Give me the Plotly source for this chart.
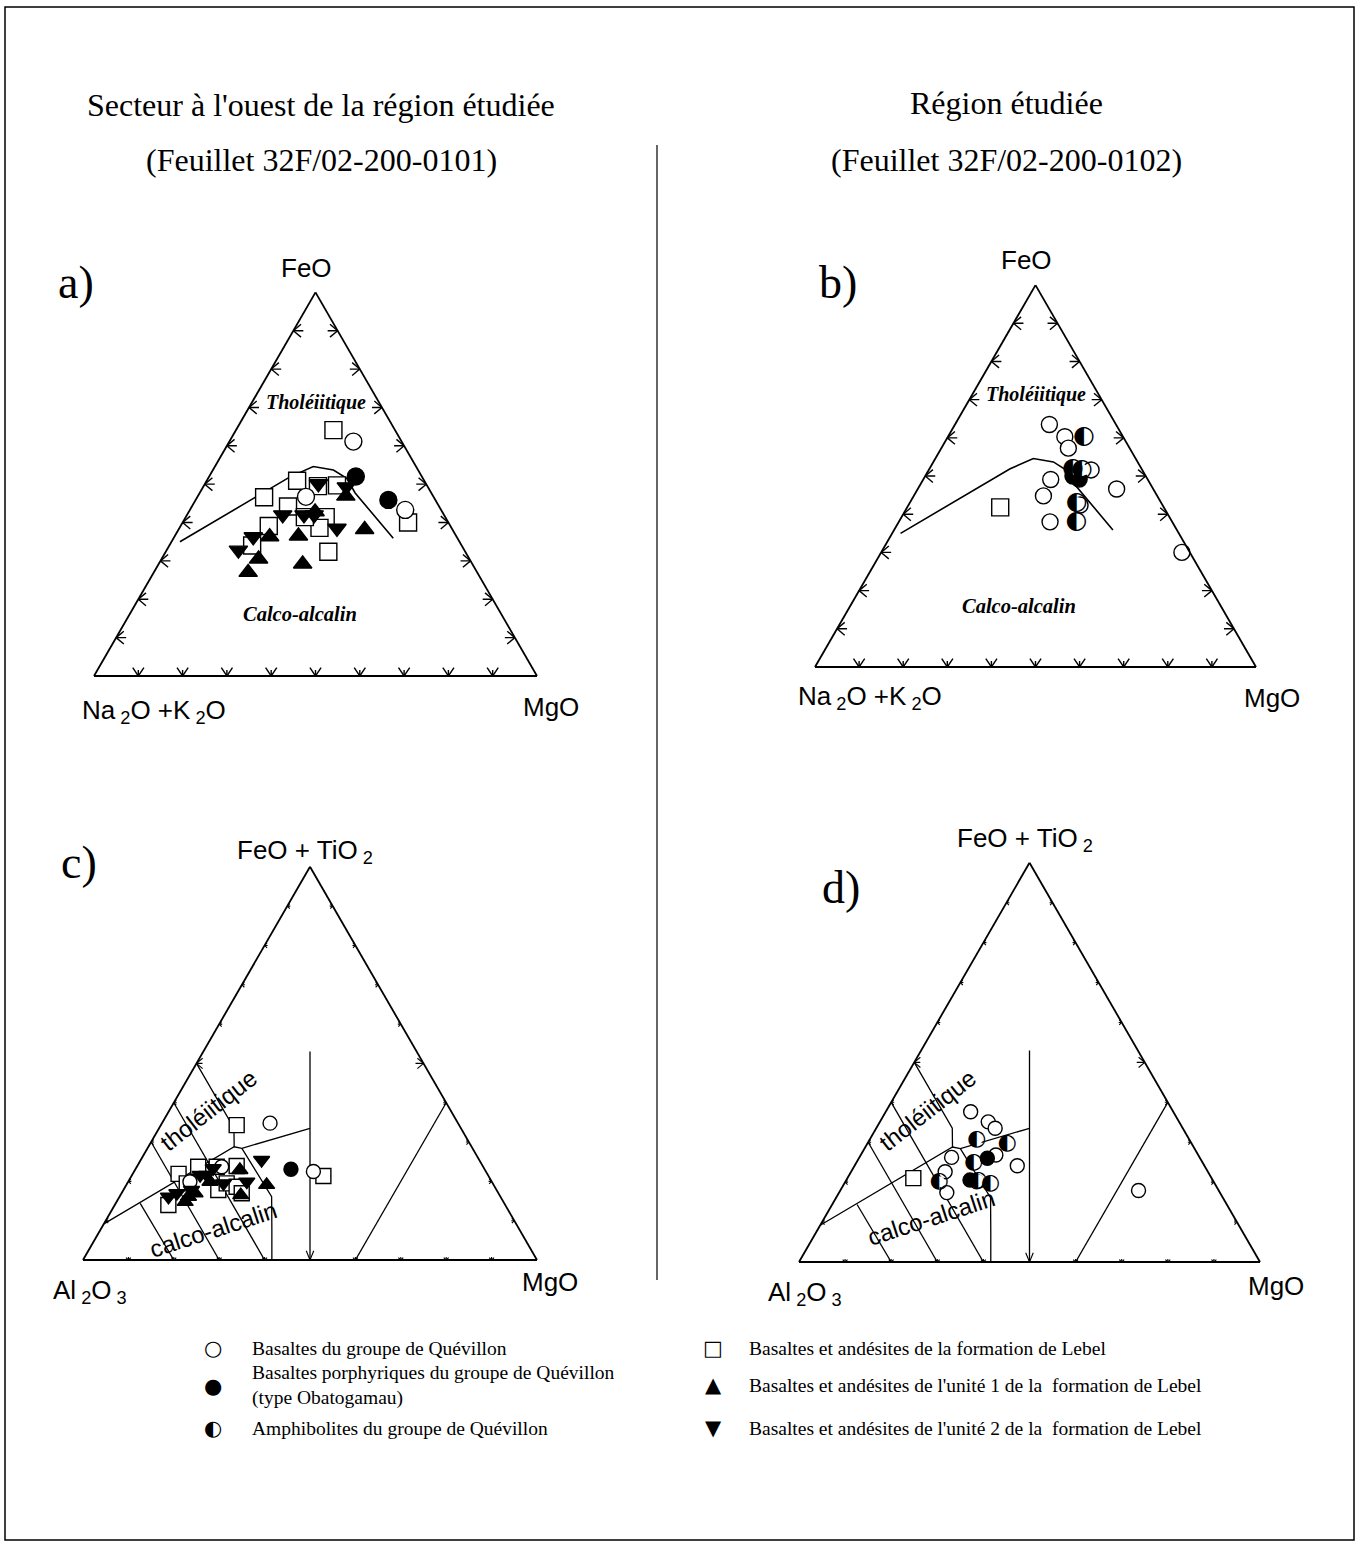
import numpy as np
import plotly.graph_objects as go

PAGE_W, PAGE_H = 1357, 1541
S3 = np.sqrt(3) / 2

# ---------------- DATA (ternary %, order: top, bottom-left, bottom-right) ----------------
TICKS = [10, 20, 30, 40, 50, 60, 70, 80, 90]

# Plot a : FeO, Na2O+K2O, MgO  (sector west)
A_SQUARES = [(64.1, 13.9, 22.0), (50.9, 28.7, 20.4), (46.6, 38.3, 15.1), (49.7, 20.3, 30.0),
             (44.2, 34.1, 21.7), (39.1, 41.0, 19.9), (34.0, 47.3, 18.7), (41.4, 27.0, 31.6),
             (38.6, 29.8, 31.6), (32.4, 30.9, 36.7), (40.0, 9.1, 50.9), (49.5, 24.7, 25.8),
             (41.4, 31.7, 26.9)]
A_OPEN_CIRCLES = [(61.1, 10.9, 28.0), (46.7, 28.8, 24.5), (43.3, 8.1, 48.6)]
A_FILLED_CIRCLES = [(52.0, 14.9, 33.1), (45.9, 10.6, 43.5)]
A_TRI_UP = [(46.9, 19.7, 33.4), (38.2, 19.8, 42.0), (36.5, 35.6, 27.9), (36.3, 42.2, 21.5),
            (30.5, 47.6, 21.9), (27.0, 51.7, 21.3), (29.2, 38.3, 32.5), (42.8, 28.7, 28.5)]
A_TRI_DOWN = [(50.1, 24.3, 25.6), (42.0, 36.4, 21.6), (42.0, 31.6, 26.4), (42.0, 29.3, 28.7),
              (38.5, 25.9, 35.6), (36.3, 45.9, 17.8), (32.8, 51.0, 16.2), (49.3, 18.4, 32.3)]

# Plot b : FeO, Na2O+K2O, MgO  (studied region)
B_SQUARES = [(41.8, 37.1, 21.1)]
B_OPEN_CIRCLES = [(63.5, 15.1, 21.4), (60.3, 13.2, 26.5), (57.3, 13.9, 28.8), (51.6, 11.6, 36.8),
                  (49.1, 22.0, 28.9), (44.8, 25.8, 29.4), (46.6, 8.3, 45.1), (38.0, 27.7, 34.3),
                  (30.0, 1.8, 68.2), (42.4, 18.7, 38.9)]
B_FILLED_CIRCLES = [(49.2, 15.5, 35.3), (50.0, 16.5, 33.5)]
B_HALF_CIRCLES = [(60.3, 8.9, 30.8), (52.0, 15.5, 32.5), (51.6, 13.7, 34.7), (42.9, 19.2, 37.9),
                  (38.0, 21.7, 40.3)]

# AFM tholeiitic / calc-alkaline boundary
AFM_BOUNDARY = [(35.0, 63.1, 1.9), (51.9, 29.8, 18.3), (54.6, 23.2, 22.2), (53.7, 19.1, 27.2),
                (51.5, 17.2, 31.3), (47.7, 17.2, 35.1), (35.9, 14.5, 49.6)]

# Plot c : FeO+TiO2, Al2O3, MgO (sector west)
C_SQUARES = [(34.3, 49.0, 16.7), (21.4, 36.4, 42.3), (21.9, 68.0, 10.1), (23.7, 62.7, 13.5),
             (23.9, 54.2, 21.9), (19.5, 67.4, 13.1), (14.0, 74.2, 11.8), (17.8, 61.3, 20.9),
             (19.5, 58.6, 21.9), (18.6, 56.8, 24.5), (17.0, 56.6, 26.5), (23.7, 58.7, 17.6)]
C_OPEN_CIRCLES = [(34.8, 41.4, 23.8), (22.5, 38.0, 39.5), (23.7, 57.6, 18.7), (19.9, 66.5, 13.6)]
C_FILLED_CIRCLES = [(23.1, 42.7, 34.3)]
C_TRI_UP = [(19.1, 50.0, 30.9), (16.5, 57.0, 26.5), (16.1, 68.8, 15.2), (17.0, 66.9, 16.2),
            (19.9, 62.0, 18.0), (22.9, 54.0, 23.1), (14.8, 70.1, 15.1)]
C_TRI_DOWN = [(25.4, 47.9, 26.6), (19.9, 53.9, 26.1), (16.1, 73.2, 10.8), (21.6, 63.4, 15.0),
              (23.3, 59.6, 17.0), (21.6, 61.9, 16.4), (17.8, 67.2, 15.0), (19.5, 59.3, 21.2),
              (17.0, 70.9, 12.2)]

# Plot d : FeO+TiO2, Al2O3, MgO (studied region)
D_SQUARES = [(21.0, 64.7, 14.3)]
D_OPEN_CIRCLES = [(37.6, 43.9, 18.4), (35.1, 41.4, 23.5), (33.5, 40.7, 25.8), (26.2, 53.8, 20.0),
                  (22.6, 57.0, 20.4), (17.4, 59.3, 23.4), (26.8, 43.9, 29.3), (24.1, 40.6, 35.3),
                  (20.1, 51.4, 28.5), (17.9, 17.4, 64.7)]
D_FILLED_CIRCLES = [(26.0, 46.2, 27.9), (20.5, 52.6, 26.8)]
D_HALF_CIRCLES = [(30.6, 46.2, 23.3), (29.6, 40.0, 30.4), (24.9, 49.6, 25.5), (20.1, 59.5, 20.4),
                  (19.7, 48.6, 31.7), (20.5, 50.8, 28.6)]

# Jensen cation plot field boundaries
JENSEN_LINES = [
    [(9.2, 90.8, 0.0), (28.8, 52.3, 18.9), (28.4, 50.8, 20.8), (33.5, 33.25, 33.25)],  # TH / CA
    [(14.4, 80.2, 5.4), (0.0, 80.0, 20.0)],
    [(30.0, 70.0, 0.0), (0.0, 70.0, 30.0)],
    [(40.0, 60.0, 0.0), (0.0, 60.0, 40.0)],
    [(50.0, 50.0, 0.0), (33.5, 50.0, 16.5), (28.8, 52.3, 18.9)],
    [(28.4, 50.8, 20.8), (16.1, 50.4, 33.5), (7.6, 54.6, 37.8), (0.0, 58.4, 41.6)],
    [(53.0, 23.5, 23.5), (0.0, 50.0, 50.0)],
    [(40.0, 0.0, 60.0), (0.0, 40.0, 60.0)],
]

LEGEND_LEFT = ["Basaltes du groupe de Quévillon",
               "Basaltes porphyriques du groupe de Quévillon<br>(type Obatogamau)",
               "Amphibolites du groupe de Quévillon"]
LEGEND_RIGHT = ["Basaltes et andésites de la formation de Lebel",
                "Basaltes et andésites de l'unité 1 de la  formation de Lebel",
                "Basaltes et andésites de l'unité 2 de la  formation de Lebel"]

# ---------------- geometry of the four triangles (pixels) ----------------
# (left x, side width, bottom y)
TRI = {
    'ternary': (94, 443, 676),
    'ternary2': (815, 441, 667),
    'ternary3': (83, 454, 1260),
    'ternary4': (799, 461, 1262),
}


def px(x):
    return x / PAGE_W


def py(y):
    return 1 - y / PAGE_H


def xy_to_tern(x, y):
    a = y / S3
    c = x - a / 2
    b = 1 - a - c
    return 100 * a, 100 * b, 100 * c


def arrow(vx, vy, dx, dy, arm, spread, shaft):
    segs = []
    bx, by = -dx, -dy
    for s in (1, -1):
        ang = np.deg2rad(s * spread)
        rx = bx * np.cos(ang) - by * np.sin(ang)
        ry = bx * np.sin(ang) + by * np.cos(ang)
        segs.append([(vx, vy), (vx + arm * rx, vy + arm * ry)])
    if shaft > 0:
        segs.append([(vx, vy), (vx + shaft * bx, vy + shaft * by)])
    return segs


def segs_to_trace(segs, subplot, width=1.3):
    A, B, C = [], [], []
    for seg in segs:
        for (x, y) in seg:
            a, b, c = xy_to_tern(x, y)
            A.append(a); B.append(b); C.append(c)
        A.append(None); B.append(None); C.append(None)
    return go.Scatterternary(a=A, b=B, c=C, mode='lines', subplot=subplot,
                             line=dict(color='black', width=width), hoverinfo='skip',
                             showlegend=False, cliponaxis=False)


def big_ticks(subplot):
    w = TRI[subplot][1]
    arm, shaft = 10.0 / w, 10.0 / w
    segs = []
    for t in TICKS:
        f = t / 100
        segs += arrow(f / 2, f * S3, -1, 0, arm, 40, shaft)          # left edge
        segs += arrow(1 - f / 2, f * S3, 1, 0, arm, 40, shaft)       # right edge
        segs += arrow(f, 0, 0, -1, arm, 34, shaft * 0.6)             # bottom edge
    return segs_to_trace(segs, subplot, width=1.4)


def small_ticks(subplot):
    w = TRI[subplot][1]
    arm, shaft = 3.5 / w, 3.0 / w
    segs = []
    for t in TICKS:
        f = t / 100
        if t == 50:
            segs += arrow(f / 2, f * S3, -1, 0, 8 / w, 40, 6 / w)
            segs += arrow(1 - f / 2, f * S3, 1, 0, 8 / w, 40, 8 / w)
            segs += arrow(f, 0, 0, -1, 10 / w, 22, 0)
        else:
            segs += arrow(f / 2, f * S3, -1, 0, arm, 45, shaft)
            segs += arrow(1 - f / 2, f * S3, 1, 0, arm, 45, shaft)
            segs += arrow(f, 0, 0, -1, arm, 45, shaft)
    return segs_to_trace(segs, subplot, width=1.1)


def line_trace(pts, subplot, width=1.5):
    return go.Scatterternary(a=[p[0] for p in pts], b=[p[1] for p in pts], c=[p[2] for p in pts],
                             mode='lines', subplot=subplot, line=dict(color='black', width=width),
                             hoverinfo='skip', showlegend=False)


def marker_trace(pts, subplot, symbol, fill, size):
    return go.Scatterternary(a=[p[0] for p in pts], b=[p[1] for p in pts], c=[p[2] for p in pts],
                             mode='markers', subplot=subplot, cliponaxis=False, showlegend=False,
                             marker=dict(symbol=symbol, size=size, color=fill,
                                         line=dict(color='black', width=1.4)))


def half_trace(pts, subplot, size):
    return go.Scatterternary(a=[p[0] for p in pts], b=[p[1] for p in pts], c=[p[2] for p in pts],
                             mode='markers+text', subplot=subplot, cliponaxis=False, showlegend=False,
                             text=['◐'] * len(pts), textposition='middle center',
                             textfont=dict(family='DejaVu Sans', size=size, color='black'),
                             marker=dict(symbol='circle', size=size * 0.5, color='white',
                                         line=dict(width=0)))


fig = go.Figure()

# plot a
fig.add_trace(big_ticks('ternary'))
fig.add_trace(line_trace(AFM_BOUNDARY, 'ternary', 1.6))
fig.add_trace(marker_trace(A_SQUARES, 'ternary', 'square', 'white', 17))
fig.add_trace(marker_trace(A_OPEN_CIRCLES, 'ternary', 'circle', 'white', 17))
fig.add_trace(marker_trace(A_FILLED_CIRCLES, 'ternary', 'circle', 'black', 17))
fig.add_trace(marker_trace(A_TRI_UP, 'ternary', 'triangle-up', 'black', 16))
fig.add_trace(marker_trace(A_TRI_DOWN, 'ternary', 'triangle-down', 'black', 16))

# plot b
fig.add_trace(big_ticks('ternary2'))
fig.add_trace(line_trace(AFM_BOUNDARY, 'ternary2', 1.6))
fig.add_trace(marker_trace(B_SQUARES, 'ternary2', 'square', 'white', 17))
fig.add_trace(marker_trace(B_OPEN_CIRCLES, 'ternary2', 'circle', 'white', 16))
fig.add_trace(marker_trace(B_FILLED_CIRCLES, 'ternary2', 'circle', 'black', 16))
fig.add_trace(half_trace(B_HALF_CIRCLES, 'ternary2', 25))

# plot c
fig.add_trace(small_ticks('ternary3'))
for ln in JENSEN_LINES:
    fig.add_trace(line_trace(ln, 'ternary3', 1.3))
fig.add_trace(marker_trace(C_SQUARES, 'ternary3', 'square', 'white', 15))
fig.add_trace(marker_trace(C_OPEN_CIRCLES, 'ternary3', 'circle', 'white', 14))
fig.add_trace(marker_trace(C_FILLED_CIRCLES, 'ternary3', 'circle', 'black', 14))
fig.add_trace(marker_trace(C_TRI_UP, 'ternary3', 'triangle-up', 'black', 14))
fig.add_trace(marker_trace(C_TRI_DOWN, 'ternary3', 'triangle-down', 'black', 14))

# plot d
fig.add_trace(small_ticks('ternary4'))
for ln in JENSEN_LINES:
    fig.add_trace(line_trace(ln, 'ternary4', 1.3))
fig.add_trace(marker_trace(D_SQUARES, 'ternary4', 'square', 'white', 15))
fig.add_trace(marker_trace(D_OPEN_CIRCLES, 'ternary4', 'circle', 'white', 14))
fig.add_trace(marker_trace(D_FILLED_CIRCLES, 'ternary4', 'circle', 'black', 14))
fig.add_trace(half_trace(D_HALF_CIRCLES, 'ternary4', 22))

axis = dict(showline=True, linecolor='black', linewidth=1.8, showgrid=False,
            showticklabels=False, ticks='', title=dict(text=''), min=0)
for key, (lx, w, by) in TRI.items():
    h = w * S3
    fig.layout[key] = dict(domain=dict(x=[px(lx), px(lx + w)], y=[py(by), py(by - h)]),
                           sum=100, bgcolor='white', aaxis=axis, baxis=axis, caxis=axis)

SANS = 'Liberation Sans'
SERIF = 'Liberation Serif'
ann = []


def A(text, x, y, size, family, xanchor='center', angle=0, yanchor='middle', align='center'):
    ann.append(dict(text=text, x=px(x), y=py(y), xref='paper', yref='paper', showarrow=False,
                    xanchor=xanchor, yanchor=yanchor, textangle=angle, align=align,
                    font=dict(family=family, size=size, color='black')))


# titles
A("Secteur à l'ouest de la région étudiée", 321, 105, 32, SERIF)
A("(Feuillet 32F/02-200-0101)", 321, 160, 32, SERIF)
A("Région étudiée", 1006, 103, 32, SERIF)
A("(Feuillet 32F/02-200-0102)", 1006, 160, 32, SERIF)
# panel letters
A("a)", 76, 283, 46, SERIF)
A("b)", 838, 282, 46, SERIF)
A("c)", 79, 862, 46, SERIF)
A("d)", 841, 887, 46, SERIF)
# vertex labels
ALK = "Na<sub> 2</sub>O +K<sub> 2</sub>O"
FETI = "FeO + TiO<sub> 2</sub>"
ALO = "Al<sub> 2</sub>O<sub> 3</sub>"
A("FeO", 306, 268, 26, SANS)
A(ALK, 154, 711, 26, SANS)
A("MgO", 551, 707, 26, SANS)
A("FeO", 1026, 260, 26, SANS)
A(ALK, 870, 697, 26, SANS)
A("MgO", 1272, 698, 26, SANS)
A(FETI, 305, 851, 26, SANS)
A(ALO, 90, 1291, 26, SANS)
A("MgO", 550, 1282, 26, SANS)
A(FETI, 1025, 839, 26, SANS)
A(ALO, 805, 1293, 26, SANS)
A("MgO", 1276, 1286, 26, SANS)
# field labels
A("<b><i>Tholéiitique</i></b>", 316, 402, 20, SERIF)
A("<b><i>Calco-alcalin</i></b>", 300, 614, 20.5, SERIF)
A("<b><i>Tholéiitique</i></b>", 1036, 395, 20, SERIF)
A("<b><i>Calco-alcalin</i></b>", 1019, 606, 20.5, SERIF)
A("tholéiitique", 208, 1110, 24, SANS, angle=-38)
A("calco-alcalin", 213, 1229, 24, SANS, angle=-18)
A("tholéiitique", 927, 1110, 24, SANS, angle=-38)
A("calco-alcalin", 931, 1217, 24, SANS, angle=-18)

# legend
SYM = 'DejaVu Sans'
A("○", 213, 1348, 21, SYM)
A("●", 213, 1386, 21, SYM)
A("◐", 213, 1428, 21, SYM)
A(LEGEND_LEFT[0], 250, 1348, 19.5, SERIF, xanchor='left')
A(LEGEND_LEFT[1], 250, 1385, 19.5, SERIF, xanchor='left', align='left')
A(LEGEND_LEFT[2], 250, 1428, 19.5, SERIF, xanchor='left')
A("□", 713, 1348, 21, SYM)
A("▲", 713, 1385, 21, SYM)
A("▼", 713, 1428, 21, SYM)
A(LEGEND_RIGHT[0], 747, 1348, 19.5, SERIF, xanchor='left')
A(LEGEND_RIGHT[1], 747, 1385, 19.5, SERIF, xanchor='left')
A(LEGEND_RIGHT[2], 747, 1428, 19.5, SERIF, xanchor='left')

shapes = [
    dict(type='rect', xref='paper', yref='paper', x0=px(5), x1=px(1354), y0=py(1540), y1=py(7),
         line=dict(color='black', width=1.5)),
    dict(type='line', xref='paper', yref='paper', x0=px(657), x1=px(657), y0=py(145), y1=py(1280),
         line=dict(color='black', width=1.2)),
]

fig.update_layout(width=PAGE_W, height=PAGE_H, autosize=False,
                  margin=dict(l=0, r=0, t=0, b=0), paper_bgcolor='white', plot_bgcolor='white',
                  showlegend=False, annotations=ann, shapes=shapes)

fig.write_html("out.html", config={'displayModeBar': False},
               post_script="document.body.style.margin='0px';")
